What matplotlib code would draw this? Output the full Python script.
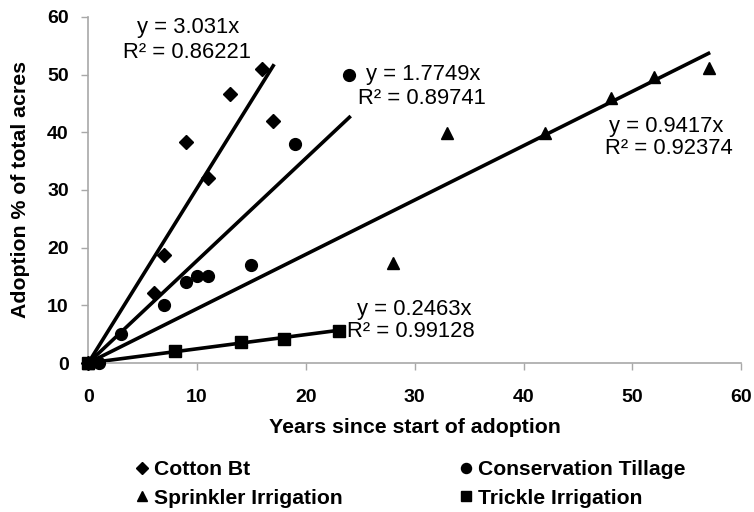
import matplotlib
matplotlib.use("Agg")
import matplotlib.pyplot as plt

plt.rcParams['font.family'] = ['Liberation Sans', 'DejaVu Sans']

cotton_x = [0, 6, 7, 9, 11, 13, 16, 17]
cotton_y = [0, 12.2, 18.7, 38.3, 32.0, 46.7, 50.9, 42.0]
cons_x = [0, 1, 3, 7, 9, 10, 11, 15, 19, 24]
cons_y = [0, 0, 5.1, 10.1, 14.1, 15.1, 15.1, 17.0, 38.0, 50.0]
spr_x = [0, 28, 33, 42, 48, 52, 57]
spr_y = [0, 17.3, 39.8, 39.8, 46.0, 49.6, 51.2]
tri_x = [0, 8, 14, 18, 23]
tri_y = [0, 2.0, 3.7, 4.2, 5.6]

slopes = {"cotton": 3.031, "cons": 1.7749, "spr": 0.9417, "tri": 0.2463}
r2 = {"cotton": 0.86221, "cons": 0.89741, "spr": 0.92374, "tri": 0.99128}

fig = plt.figure(figsize=(7.54, 5.12), dpi=100)
ax = fig.add_axes([0.117, 0.291, 0.866, 0.676])

series = [
    ("Cotton Bt", cotton_x, cotton_y, "D", 7.5, "cotton"),
    ("Sprinkler Irrigation", spr_x, spr_y, "^", 9, "spr"),
    ("Conservation Tillage", cons_x, cons_y, "o", 8.5, "cons"),
    ("Trickle Irrigation", tri_x, tri_y, "s", 8, "tri"),
]
handles = []
for label, xs, ys, m, ms, key in series:
    xe = max(xs)
    ax.plot([0, xe], [0, slopes[key] * xe], color="black", lw=2.6, zorder=2)
    h, = ax.plot(xs, ys, linestyle="none", marker=m, ms=ms, color="black", zorder=3,
                 label=label, clip_on=False)
    handles.append(h)

ax.set_xlim(0, 60)
ax.set_ylim(0, 60)
ax.set_xticks(range(0, 61, 10))
ax.set_yticks(range(0, 61, 10))
for s in ["top", "right"]:
    ax.spines[s].set_visible(False)
for s in ["left", "bottom"]:
    ax.spines[s].set_color("#a8a8a8")
    ax.spines[s].set_linewidth(1.2)
ax.tick_params(colors="#a8a8a8", length=5, width=1, labelcolor="black", labelsize=14)
ax.tick_params(axis="x", pad=14)
ax.tick_params(axis="y", pad=9)
for lab in ax.get_xticklabels() + ax.get_yticklabels():
    lab.set_fontweight("bold")
ax.set_xlabel("Years since start of adoption", fontsize=15.3, fontweight="bold", labelpad=8)
ax.set_ylabel("Adoption % of total acres", fontsize=15.3, fontweight="bold", labelpad=12)

tk = dict(fontsize=15.8, color="black")
ax.text(9.2, 58.1, f"y = {slopes['cotton']}x", ha="center", va="center", **tk)
ax.text(9.05, 53.9, f"R² = {r2['cotton']}", ha="center", va="center", **tk)
ax.text(25.5, 50.1, f"y = {slopes['cons']}x", ha="left", va="center", **tk)
ax.text(24.8, 45.9, f"R² = {r2['cons']}", ha="left", va="center", **tk)
ax.text(53.1, 41.0, f"y = {slopes['spr']}x", ha="center", va="center", **tk)
ax.text(53.4, 37.1, f"R² = {r2['spr']}", ha="center", va="center", **tk)
ax.text(24.7, 9.2, f"y = {slopes['tri']}x", ha="left", va="center", **tk)
ax.text(23.8, 5.4, f"R² = {r2['tri']}", ha="left", va="center", **tk)

leg = fig.legend(handles=handles, loc="upper left", bbox_to_anchor=(137 / 754, 1 - 460 / 512),
                 ncol=2, frameon=False, prop={"weight": "bold", "size": 15.2},
                 handlelength=0.5, handletextpad=0.3, columnspacing=5.6,
                 labelspacing=0.45, markerscale=0.85, borderaxespad=0, borderpad=0)
fig.savefig("out.png", dpi=100)
